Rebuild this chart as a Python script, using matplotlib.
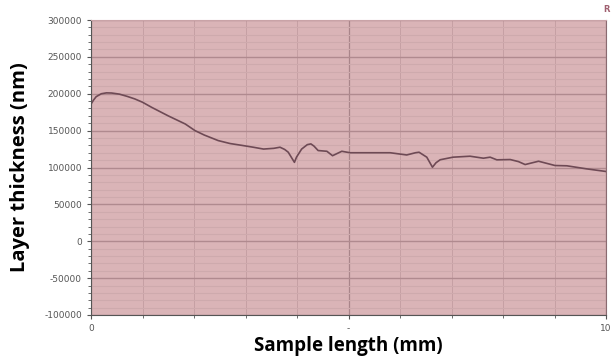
import matplotlib
matplotlib.use("Agg")
import matplotlib.pyplot as plt
from matplotlib.ticker import MultipleLocator

x_mm = [0.0, 0.05, 0.1, 0.2, 0.3, 0.4, 0.55, 0.7, 0.85, 1.0, 1.18, 1.5, 1.83, 2.02, 2.2, 2.47,
        2.7, 2.93, 3.15, 3.35, 3.55, 3.67, 3.76, 3.83, 3.95,
        3.99, 4.09, 4.2, 4.27, 4.33, 4.41, 4.58, 4.69, 4.87, 5.03, 5.29, 5.81, 6.13, 6.3, 6.37, 6.52, 6.63, 6.7, 6.78,
        7.03, 7.36, 7.62, 7.75, 7.88, 8.14, 8.3, 8.43, 8.69, 9.01, 9.24, 9.62, 10.0]
thickness_nm = [186000, 191500, 196000, 200000, 201200, 201000, 199500, 196500, 193000, 188500,
                181500, 170000, 159000, 150000, 144000, 136500, 132500, 130000, 127500, 125000,
                126000, 127500, 124500, 120700, 107000, 114000, 125000, 131000, 132000, 129000,
                123000, 122000, 116000, 122000, 120000, 120000, 120000, 117000, 120000, 120700,
                114000, 100400, 106500, 110500, 114000, 115300, 112600, 114000, 110400, 110800,
                108000, 104000, 108500, 102700, 102300, 98200, 94600]

y_ticks = [-100000, -50000, 0, 50000, 100000, 150000, 200000, 250000, 300000]
x_ticks = [0, 5, 10]
x_tick_labels = ["0", "-", "10"]

fig = plt.figure(figsize=(6.12, 3.56), dpi=100)
ax = fig.add_axes([91/612, 1-315/356, (606-91)/612, (315-20)/356])
ax.set_facecolor("#dab4b7")
ax.plot(x_mm, thickness_nm, color="#6e4a55", lw=1.2, solid_joinstyle="round")
ax.set_xlim(0, 10)
ax.set_ylim(-100000, 300000)
ax.set_yticks(y_ticks)
ax.set_yticklabels([str(v) for v in y_ticks])
ax.set_xticks(x_ticks)
ax.set_xticklabels(x_tick_labels)
ax.yaxis.set_minor_locator(MultipleLocator(10000))
ax.xaxis.set_minor_locator(MultipleLocator(1))
ax.grid(which="major", axis="y", color="#b08a8f", lw=1.0)
ax.grid(which="major", axis="x", color="#a9858a", lw=0.9)
ax.grid(which="minor", axis="y", color="#ceaaad", lw=0.8)
ax.grid(which="minor", axis="x", color="#c6a0a4", lw=0.7)
ax.set_axisbelow(True)
ax.spines["top"].set_color("#c9a3a7")
ax.spines["right"].set_color("#8a6a70")
ax.spines["left"].set_color("#555555")
ax.spines["bottom"].set_color("#555555")
ax.tick_params(axis="both", which="major", labelsize=6.5, labelcolor="#555555", color="#555555", length=3)
ax.tick_params(axis="both", which="minor", color="#555555", length=2)
ax.set_ylabel("Layer thickness (nm)", fontsize=14.5, fontweight="bold", family="Open Sans", labelpad=10)
ax.set_xlabel("Sample length (mm)", fontsize=13.5, fontweight="bold", family="Open Sans", labelpad=2)
fig.text(606/612, 1-10/356, "R", fontsize=6, color="#a06070", ha="center", va="center", fontweight="bold")
fig.savefig("out.png", dpi=100)
